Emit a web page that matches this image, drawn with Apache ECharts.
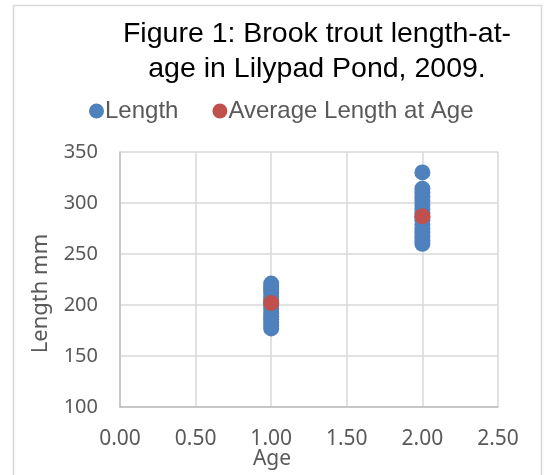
<!DOCTYPE html>
<html>
<head>
<meta charset="utf-8">
<script src="https://cdn.jsdelivr.net/npm/echarts@6/dist/echarts.min.js"></script>
<style>
  html, body { margin: 0; padding: 0; background: #fff; }
  #chart { width: 545px; height: 475px; }
</style>
</head>
<body>
<div id="chart"></div>
<script>
    // values
    var ageOneLengths = [177, 180, 183, 186, 189, 192, 196, 199, 202, 205, 208, 212, 215, 218, 221];
    var ageTwoLengths = [260, 263, 267, 271, 275, 279, 283, 286, 290, 294, 298, 302, 306, 310, 314, 330];
    var ages = [1, 2];
    var averageLengths = [202, 287];

    var lengthPoints = [];
    ageOneLengths.forEach(function (v) { lengthPoints.push([ages[0], v]); });
    ageTwoLengths.forEach(function (v) { lengthPoints.push([ages[1], v]); });
    var averagePoints = ages.map(function (a, i) { return [a, averageLengths[i]]; });

    var labelFont = 'Noto Sans';
    var myChart = echarts.init(document.getElementById('chart'));
    var option = {
        animation: false,
        graphic: [{
            type: 'rect',
            shape: { x: 13.5, y: 5.5, width: 528, height: 480 },
            style: { fill: 'none', stroke: '#d9d9d9', lineWidth: 1.5 }
        }],
        title: {
            text: 'Figure 1: Brook trout length-at-\nage in Lilypad Pond, 2009.',
            left: 312,
            top: 12,
            textAlign: 'center',
            textStyle: {
                fontFamily: 'Liberation Sans',
                fontSize: 28.5,
                fontWeight: 'normal',
                color: '#000',
                lineHeight: 35
            }
        },
        legend: {
            top: 94,
            left: 84,
            itemGap: 34,
            itemWidth: 15,
            itemHeight: 15,
            icon: 'circle',
            textStyle: {
                fontFamily: 'Liberation Sans',
                fontSize: 24,
                color: '#595959',
                padding: [0, 0, 0, -4]
            },
            data: ['Length', 'Average Length at Age']
        },
        grid: { left: 120, right: 47, top: 152, bottom: 68, containLabel: false, outerBoundsMode: 'none' },
        xAxis: {
            type: 'value',
            min: 0,
            max: 2.5,
            interval: 0.5,
            name: 'Age',
            nameLocation: 'middle',
            nameGap: 42,
            nameMoveOverlap: false,
            nameTextStyle: { fontFamily: labelFont, fontSize: 21, color: '#595959', padding: [0, 74, 0, 0] },
            axisLine: { show: true, lineStyle: { color: '#bfbfbf', width: 1.5 } },
            axisTick: { show: false },
            splitLine: { show: true, lineStyle: { color: '#d9d9d9', width: 1.5 } },
            axisLabel: {
                fontFamily: labelFont,
                fontSize: 21,
                color: '#595959',
                margin: 22,
                formatter: function (v) { return v.toFixed(2); }
            }
        },
        yAxis: {
            type: 'value',
            min: 100,
            max: 350,
            interval: 50,
            name: 'Length mm',
            nameLocation: 'middle',
            nameGap: 68,
            nameTextStyle: { fontFamily: labelFont, fontSize: 22, color: '#595959', padding: [0, 28, 0, 0] },
            axisLine: { show: true, lineStyle: { color: '#bfbfbf', width: 1.5 } },
            axisTick: { show: false },
            splitLine: { show: true, lineStyle: { color: '#d9d9d9', width: 1.5 } },
            axisLabel: {
                fontFamily: labelFont,
                fontSize: 20,
                color: '#595959',
                margin: 22
            }
        },
        series: [{
            name: 'Length',
            type: 'scatter',
            symbolSize: 16,
            itemStyle: { color: '#4f81bd', opacity: 1 },
            data: lengthPoints
        }, {
            name: 'Average Length at Age',
            type: 'scatter',
            symbolSize: 16,
            itemStyle: { color: '#c0504d', opacity: 1 },
            data: averagePoints
        }]
    };
    myChart.setOption(option);
</script>
</body>
</html>
